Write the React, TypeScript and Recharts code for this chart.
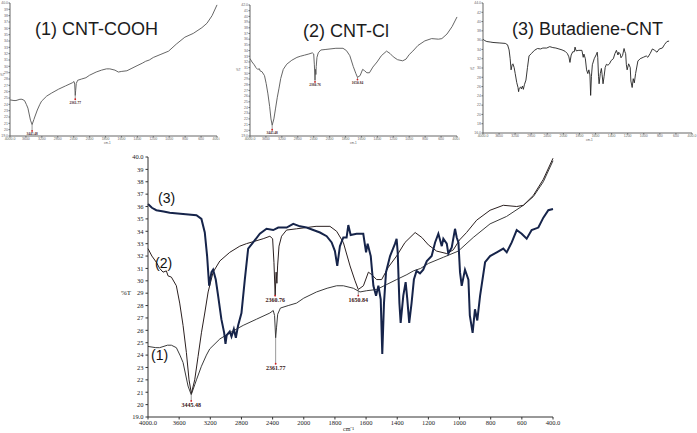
import { LineChart, Line, XAxis, YAxis, ReferenceDot, ReferenceLine } from 'recharts';

// FTIR axis: 4000-2000 at 400 per division, 2000-400 at 200 per division
const xTickLabels = ['4000.0', '3600', '3200', '2800', '2400', '2000', '1800', '1600', '1400', '1200', '1000', '800', '600', '400.0'];
const mainYTicks = [19, 20, 21, 22, 23, 24, 25, 26, 27, 28, 29, 30, 31, 32, 33, 34, 35, 36, 37, 38, 39, 40];

// (1) CNT-COOH
const wn1 = [4000, 3900, 3850, 3750, 3700, 3636, 3590, 3550, 3486, 3445, 3400, 3378, 3314, 3250, 3207, 3078, 2950, 2778, 2607, 2435, 2392, 2375, 2361, 2350, 2335, 2300, 2200, 2093, 2000, 1918, 1850, 1789, 1746, 1682, 1639, 1596, 1532, 1468, 1404, 1338, 1296, 1250, 1200, 1104, 1008, 912, 804, 698, 590, 526, 462, 400];
const t1 = [24.7, 24.6, 24.6, 24.8, 24.8, 24.6, 24.0, 23.4, 21.5, 20.8, 21.6, 22.0, 23.1, 24.0, 24.5, 25.3, 25.8, 26.4, 26.9, 27.4, 27.6, 27.2, 25.4, 26.2, 27.3, 27.8, 28.0, 28.2, 28.6, 29.1, 29.4, 29.6, 29.6, 29.4, 29.1, 29.2, 29.3, 29.7, 30.1, 30.5, 30.8, 31.0, 31.4, 31.9, 32.4, 33.5, 34.6, 35.2, 36.1, 36.8, 38.0, 39.7];

// (2) CNT-Cl
const wn2 = [4000, 3950, 3893, 3850, 3807, 3764, 3743, 3700, 3636, 3593, 3550, 3507, 3473, 3443, 3400, 3357, 3314, 3271, 3228, 3164, 3078, 2950, 2821, 2736, 2628, 2521, 2435, 2400, 2383, 2367, 2355, 2345, 2336, 2318, 2285, 2221, 2093, 1921, 1832, 1789, 1746, 1703, 1671, 1650, 1617, 1585, 1564, 1532, 1500, 1457, 1404, 1350, 1285, 1242, 1200, 1147, 1082, 1040, 1000, 955, 890, 804, 719, 633, 590, 526, 462, 400];
const t2 = [32.6, 32.0, 31.5, 31.0, 30.7, 30.8, 30.4, 30.3, 29.6, 28.2, 26.4, 24.2, 22.0, 20.9, 22.0, 23.9, 25.8, 27.4, 29.1, 30.7, 31.6, 32.3, 32.8, 33.0, 33.2, 33.4, 33.6, 33.4, 31.5, 28.8, 30.7, 29.8, 31.2, 32.8, 33.6, 34.1, 34.2, 34.4, 34.4, 34.0, 33.1, 31.2, 30.0, 29.3, 29.6, 30.7, 30.5, 30.1, 30.1, 31.1, 32.0, 33.1, 33.9, 33.5, 32.9, 32.4, 32.2, 32.5, 33.3, 33.9, 34.9, 35.7, 36.1, 36.0, 36.1, 36.9, 38.2, 39.9];

// (3) Butadiene-CNT
const wn3 = [4000, 3950, 3893, 3800, 3721, 3550, 3378, 3314, 3271, 3241, 3215, 3185, 3164, 3130, 3100, 3058, 3022, 3005, 2990, 2950, 2928, 2898, 2872, 2843, 2800, 2757, 2714, 2650, 2564, 2478, 2392, 2328, 2220, 2135, 2049, 1982, 1939, 1896, 1853, 1821, 1800, 1785, 1768, 1746, 1725, 1714, 1699, 1661, 1618, 1600, 1590, 1570, 1553, 1536, 1521, 1506, 1496, 1485, 1472, 1446, 1414, 1404, 1397, 1386, 1378, 1361, 1346, 1336, 1323, 1308, 1293, 1276, 1254, 1233, 1210, 1179, 1157, 1136, 1114, 1104, 1082, 1072, 1050, 1029, 1018, 1007, 997, 986, 965, 943, 934, 916, 901, 886, 868, 836, 804, 761, 719, 697, 665, 633, 601, 569, 537, 494, 462, 430, 400];
const t3 = [36.2, 35.9, 35.7, 35.6, 35.5, 35.4, 35.3, 35.0, 33.9, 32.0, 29.6, 30.7, 30.9, 30.1, 28.8, 26.9, 25.8, 24.9, 25.6, 25.9, 25.5, 26.1, 25.4, 26.4, 27.4, 30.1, 32.6, 33.1, 33.8, 34.2, 34.1, 34.3, 34.3, 34.6, 34.4, 34.3, 34.1, 33.9, 33.6, 33.1, 32.4, 31.2, 32.8, 33.5, 33.5, 34.5, 33.7, 33.8, 33.8, 32.3, 33.0, 32.0, 29.6, 28.8, 29.6, 28.5, 24.1, 28.2, 30.7, 32.0, 33.0, 33.4, 32.3, 28.2, 26.6, 28.8, 29.9, 28.6, 26.6, 28.2, 30.1, 30.8, 30.6, 30.9, 31.6, 32.0, 33.1, 33.8, 32.8, 33.4, 33.0, 32.2, 32.7, 34.2, 33.5, 33.1, 30.7, 29.6, 30.9, 30.1, 27.2, 25.8, 27.7, 26.8, 28.8, 31.5, 32.0, 32.3, 32.6, 32.3, 33.1, 34.1, 33.8, 33.4, 34.1, 34.3, 35.1, 35.7, 35.8];

const toPos = (wn: number) => (wn >= 2000 ? (4000 - wn) / 400 : 5 + (2000 - wn) / 200);
const build = (wn: number[], t: number[]) => wn.map((w, i) => ({ x: toPos(w), y: t[i] }));

const s1 = build(wn1, t1);
const s2 = build(wn2, t2);
const s3 = build(wn3, t3);

const range = (a: number, b: number, step = 1) =>
  Array.from({ length: Math.floor((b - a) / step) + 1 }, (_, i) => a + i * step);
const xTickPos = range(0, 13);

type Note = { wn: number; t: number; text: string; gap: number };

const notes1: Note[] = [
  { wn: 3445, t: 20.8, text: '3445.48', gap: 1 },
  { wn: 2361, t: 25.4, text: '2361.77', gap: 0.6 },
];
const notes2: Note[] = [
  { wn: 3443, t: 20.9, text: '3445.48', gap: 0.8 },
  { wn: 2367, t: 28.8, text: '2360.76', gap: 0.3 },
  { wn: 1650, t: 29.3, text: '1650.84', gap: 0.4 },
];
const mainNotes: Note[] = [
  { wn: 3445, t: 20.8, text: '3445.48', gap: 0.5 },
  { wn: 2361, t: 25.4, text: '2361.77', gap: 2.1 },
  { wn: 2367, t: 28.8, text: '2360.76', gap: 0 },
  { wn: 1650, t: 29.3, text: '1650.84', gap: 0.5 },
];

const serif = 'Liberation Serif, serif';
const sans = 'Liberation Sans, Arial, sans-serif';

function noteMarks(notes: Note[], size: number) {
  return notes.flatMap((n, i) => {
    const x = toPos(n.wn);
    const out = [] as any[];
    if (n.gap > 0) {
      out.push(
        <ReferenceLine
          key={`l${i}`}
          segment={[{ x, y: n.t }, { x, y: n.t - n.gap }]}
          stroke="#555"
          strokeWidth={0.6}
        />
      );
    }
    out.push(
      <ReferenceDot
        key={`d${i}`}
        x={x}
        y={n.t - n.gap}
        r={0.9}
        fill="#d02020"
        stroke="none"
        label={{ value: n.text, position: 'bottom', offset: 1, fontSize: size, fill: '#3a1414', fontFamily: serif, fontWeight: 'bold' }}
      />
    );
    return out;
  });
}

interface SmallProps {
  left: number;
  top: number;
  width: number;
  height: number;
  yAxisWidth: number;
  margin: { top: number; right: number };
  yDomain: [number, number];
  yStep: number;
  xMax: number;
  data: { x: number; y: number }[];
  stroke: string;
  notes: Note[];
}

function SmallSpectrum(p: SmallProps) {
  const yTicks = range(p.yDomain[0], p.yDomain[1], p.yStep);
  const xt = xTickLabels.map((_, i) => (i * p.xMax) / 13);
  return (
    <div style={{ position: 'absolute', left: p.left, top: p.top }}>
      <LineChart width={p.width} height={p.height} margin={{ top: p.margin.top, right: p.margin.right, left: 0, bottom: 0 }}>
        <XAxis
          dataKey="x"
          type="number"
          domain={[0, p.xMax]}
          ticks={xt}
          tickFormatter={(v: number) => xTickLabels[Math.round((v * 13) / p.xMax)]}
          height={10}
          tickSize={1.5}
          tickMargin={0.5}
          interval={0}
          stroke="#666"
          tick={{ fontSize: 3.5, fill: '#666', fontFamily: sans }}
        />
        <YAxis
          type="number"
          domain={p.yDomain}
          ticks={yTicks}
          interval={0}
          width={p.yAxisWidth}
          tickSize={1.5}
          tickMargin={0.5}
          stroke="#666"
          tick={{ fontSize: 3.5, fill: '#666', fontFamily: sans }}
          tickFormatter={(v: number) => (v === p.yDomain[0] || v === p.yDomain[1] ? v.toFixed(1) : String(v))}
        />
        <Line data={p.data} dataKey="y" stroke={p.stroke} strokeWidth={0.9} dot={false} isAnimationActive={false} />
        {noteMarks(p.notes, 3.5)}
      </LineChart>
    </div>
  );
}

const titleStyle = (left: number, top: number) => ({
  position: 'absolute' as const,
  left,
  top,
  fontFamily: sans,
  fontSize: 18,
  lineHeight: '18px',
  color: '#1c1c1c',
  whiteSpace: 'nowrap' as const,
});

const tinyStyle = (left: number, top: number, size = 3) => ({
  position: 'absolute' as const,
  left,
  top,
  fontFamily: sans,
  fontSize: size,
  lineHeight: `${size}px`,
  color: '#555',
  whiteSpace: 'nowrap' as const,
});

const curveLabel = (left: number, top: number) => ({
  position: 'absolute' as const,
  left,
  top,
  fontFamily: sans,
  fontSize: 14,
  lineHeight: '14px',
  color: '#111',
});

export default function App() {
  return (
    <div style={{ position: 'absolute', left: 0, top: 0, width: 697, height: 433, background: '#fff', overflow: 'hidden' }}>
      <SmallSpectrum left={0} top={0} width={220} height={146} yAxisWidth={10} margin={{ top: 3, right: 3 }}
        yDomain={[19, 40]} yStep={1} xMax={13} data={s1} stroke="#555" notes={notes1} />
      <SmallSpectrum left={237} top={0} width={223} height={146} yAxisWidth={13} margin={{ top: 5, right: 3 }}
        yDomain={[19, 42]} yStep={1} xMax={13} data={s2} stroke="#555" notes={notes2} />
      <SmallSpectrum left={470} top={0} width={227} height={143} yAxisWidth={13} margin={{ top: 3, right: 5 }}
        yDomain={[16, 44]} yStep={2} xMax={14.6} data={s3} stroke="#222" notes={[]} />

      <div style={titleStyle(35, 20)}>(1) CNT-COOH</div>
      <div style={titleStyle(303, 22)}>(2) CNT-Cl</div>
      <div style={titleStyle(512, 20)}>(3) Butadiene-CNT</div>

      <div style={tinyStyle(0, 74.4)}>%T</div>
      <div style={tinyStyle(104, 142)}>cm-1</div>
      <div style={tinyStyle(236, 69)}>%T</div>
      <div style={tinyStyle(350, 142)}>cm-1</div>
      <div style={tinyStyle(470, 68)}>%T</div>
      <div style={tinyStyle(586, 139)}>cm-1</div>

      <div style={{ position: 'absolute', left: 100, top: 140 }}>
        <LineChart width={480} height={293} margin={{ top: 17, right: 27, left: 0, bottom: 0 }}>
          <XAxis
            dataKey="x"
            type="number"
            domain={[0, 13]}
            ticks={xTickPos}
            interval={0}
            tickFormatter={(v: number) => xTickLabels[v]}
            height={16}
            tickSize={2.5}
            tickMargin={1}
            stroke="#333"
            tick={{ fontSize: 6.5, fill: '#222', fontFamily: serif }}
          />
          <YAxis
            type="number"
            domain={[19, 40]}
            ticks={mainYTicks}
            interval={0}
            width={48}
            tickSize={2.5}
            tickMargin={2}
            stroke="#333"
            tick={{ fontSize: 6.5, fill: '#222', fontFamily: serif }}
            tickFormatter={(v: number) => (v === 19 || v === 40 ? v.toFixed(1) : String(v))}
          />
          <Line data={s1} dataKey="y" stroke="#3b3b3b" strokeWidth={1} dot={false} isAnimationActive={false} />
          <Line data={s2} dataKey="y" stroke="#2b2020" strokeWidth={1} dot={false} isAnimationActive={false} />
          <Line data={s3} dataKey="y" stroke="#16244a" strokeWidth={2} dot={false} isAnimationActive={false} />
          {noteMarks(mainNotes, 6)}
        </LineChart>
      </div>

      <div style={curveLabel(158, 191)}>(3)</div>
      <div style={curveLabel(155, 256)}>(2)</div>
      <div style={curveLabel(151, 348)}>(1)</div>
      <div style={{ ...tinyStyle(121, 290, 7), fontFamily: serif, color: '#222' }}>%T</div>
      <div style={{ ...tinyStyle(343, 426, 6), fontFamily: serif, color: '#222' }}>cm⁻¹</div>
    </div>
  );
}
